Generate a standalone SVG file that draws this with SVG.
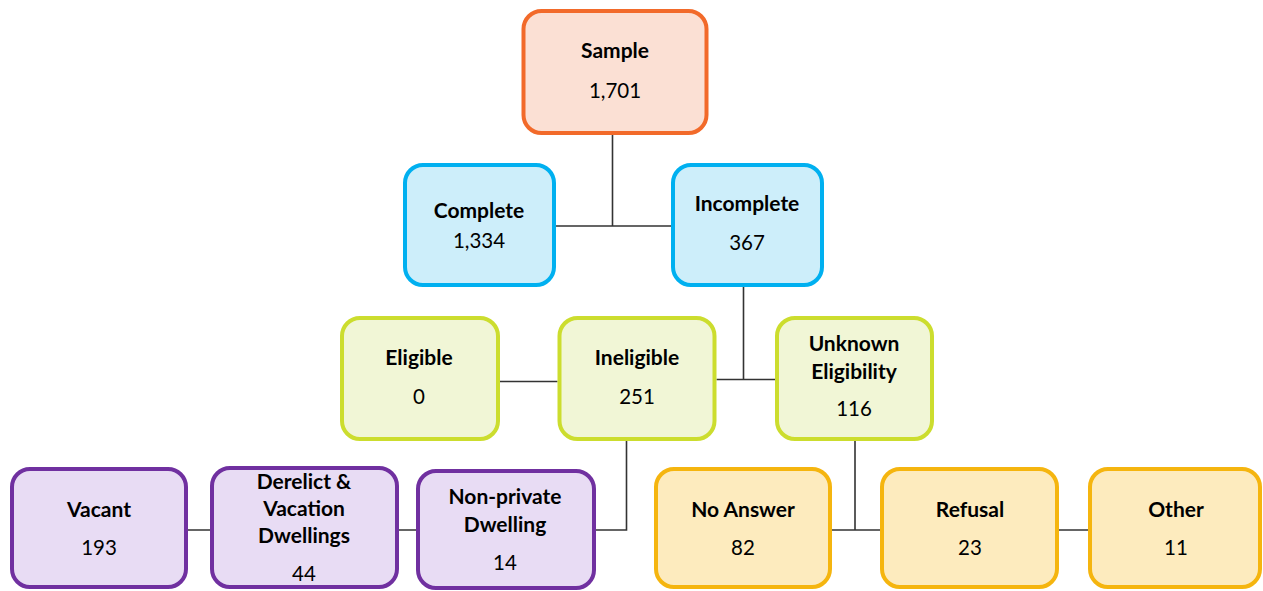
<svg xmlns="http://www.w3.org/2000/svg" width="1263" height="591" viewBox="0 0 1263 591">
<style>
.box{stroke-width:4}
.orange{fill:#FBE0D4;stroke:#F26A2A}
.blue{fill:#CDEEFA;stroke:#00B0F0}
.green{fill:#F1F6D6;stroke:#CCDD2E}
.purple{fill:#E8DCF4;stroke:#7030A0}
.yellow{fill:#FDEBBE;stroke:#F5B50F}
text{font-family:Lato,"Open Sans","Liberation Sans",sans-serif;font-size:20.5px;fill:#000;text-anchor:middle}
.t{font-weight:bold;font-size:21px}
#connectors path{fill:none;stroke:#333;stroke-width:1.6}
</style>
<rect width="1263" height="591" fill="#fff"/>
<g id="connectors">
<path d="M612.5,133 V226 M556,226 H671"/>
<path d="M743.5,287 V379.5 M716.5,379.5 H775"/>
<path d="M500,381.5 H557.5"/>
<path d="M626.5,441 V530 H596"/>
<path d="M188,530 H210 M399,530 H416"/>
<path d="M855,441 V530 M832,530 H880 M1059,530 H1088"/>
</g>
<g id="sample"><rect class="box orange" x="523.5" y="11" width="183" height="122" rx="18"/><text class="t" x="615" y="58">Sample</text><text x="615" y="98">1,701</text></g>
<g id="complete"><rect class="box blue" x="405" y="165" width="149" height="120" rx="18"/><text class="t" x="479" y="218">Complete</text><text x="479" y="248">1,334</text></g>
<g id="incomplete"><rect class="box blue" x="673" y="165" width="149" height="120" rx="18"/><text class="t" x="747" y="211">Incomplete</text><text x="747" y="250">367</text></g>
<g id="eligible"><rect class="box green" x="342" y="318" width="156" height="121" rx="18"/><text class="t" x="419" y="365">Eligible</text><text x="419" y="404">0</text></g>
<g id="ineligible"><rect class="box green" x="559.5" y="318" width="155" height="121" rx="18"/><text class="t" x="637" y="365">Ineligible</text><text x="637" y="404">251</text></g>
<g id="unknown"><rect class="box green" x="777" y="318" width="155" height="121" rx="18"/><text class="t" x="854" y="351">Unknown</text><text class="t" x="854" y="379">Eligibility</text><text x="854" y="416">116</text></g>
<g id="vacant"><rect class="box purple" x="12" y="469" width="174" height="118" rx="18"/><text class="t" x="99" y="517">Vacant</text><text x="99" y="555">193</text></g>
<g id="derelict"><rect class="box purple" x="212" y="468" width="185" height="119" rx="18"/><text class="t" x="304" y="489">Derelict &amp;</text><text class="t" x="304" y="516">Vacation</text><text class="t" x="304" y="543">Dwellings</text><text x="304" y="581">44</text></g>
<g id="nonprivate"><rect class="box purple" x="418" y="471" width="176" height="117" rx="18"/><text class="t" x="505" y="504">Non-private</text><text class="t" x="505" y="532">Dwelling</text><text x="505" y="570">14</text></g>
<g id="noanswer"><rect class="box yellow" x="656" y="469" width="174" height="118" rx="18"/><text class="t" x="743" y="517">No Answer</text><text x="743" y="555">82</text></g>
<g id="refusal"><rect class="box yellow" x="882" y="469" width="175" height="118" rx="18"/><text class="t" x="970" y="517">Refusal</text><text x="970" y="555">23</text></g>
<g id="other"><rect class="box yellow" x="1090" y="469" width="170" height="118" rx="18"/><text class="t" x="1176" y="517">Other</text><text x="1176" y="555">11</text></g>
</svg>
